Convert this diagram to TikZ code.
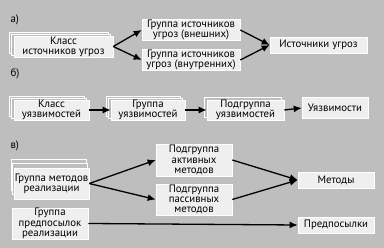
\documentclass[tikz,border=0pt]{standalone}
\usepackage{fontspec}
\setmainfont{PT Sans}
\usetikzlibrary{arrows.meta,shadows}
\definecolor{bgc}{RGB}{190,190,190}
\definecolor{boxc}{RGB}{239,239,239}
\begin{document}
\begin{tikzpicture}[x=1pt,y=-1pt,
    box/.style={draw=white,fill=boxc,line width=0.6pt,inner sep=0pt,align=center,
      font=\fontsize{10.8}{10.2}\selectfont},
    sheets/.style={double copy shadow={shadow xshift=-2.5pt,shadow yshift=2pt,
      draw=white,fill=bgc,line width=0.6pt}},
    sheet/.style={copy shadow={shadow xshift=-2.5pt,shadow yshift=2.5pt,
      draw=white,fill=bgc,line width=0.6pt}},
    arr/.style={line width=1.3pt,-{Latex[length=8pt,width=7pt]}},
    lbl/.style={anchor=west,font=\fontsize{10.8}{10.2}\selectfont}]
  \fill[bgc] (0,0) rectangle (384,248);
  \useasboundingbox (0,0) rectangle (384,248);
  % a) sources of threats
  \node[lbl] (la) at (7,20) {а)};
  \node[box,sheets,minimum width=99pt,minimum height=21pt] (ka) at (63.5,46.5) {Класс\\источников угроз};
  \node[box,minimum width=98pt,minimum height=21pt] (ga1) at (191,30) {Группа источников\\угроз (внешних)};
  \node[box,minimum width=98pt,minimum height=21pt] (ga2) at (191,60) {Группа источников\\угроз (внутренних)};
  \node[box,minimum width=97pt,minimum height=16pt] (ia) at (318.5,45) {Источники угроз};
  \draw[arr] (ka.east) -- (ga1.west);
  \draw[arr] (ka.east) -- (ga2.west);
  \draw[arr] (ga1.east) -- (ia.west);
  \draw[arr] (ga2.east) -- (ia.west);
  % b) vulnerabilities
  \node[lbl] (lb) at (7,74) {б)};
  \node[box,sheets,minimum width=75pt,minimum height=20pt] (kb) at (51.5,110) {Класс\\уязвимостей};
  \node[box,sheets,minimum width=74pt,minimum height=20pt] (gb) at (148,110) {Группа\\уязвимостей};
  \node[box,sheet,minimum width=77pt,minimum height=20pt] (pb) at (245.5,110) {Подгруппа\\уязвимостей};
  \node[box,minimum width=66pt,minimum height=21pt] (ub) at (335,108) {Уязвимости};
  \draw[arr] (kb) -- (gb);
  \draw[arr] (gb) -- (pb);
  \draw[arr] (pb.east) -- (ub.west);
  % c) methods and preconditions
  \node[lbl] (lc) at (7,146) {в)};
  \node[box,minimum width=75pt,minimum height=31pt,
    double copy shadow={shadow xshift=-1.5pt,shadow yshift=4.5pt,draw=white,fill=bgc,line width=0.6pt}]
    (gc) at (51.5,183.5) {Группа методов\\реализации};
  \node[box,minimum width=76pt,minimum height=31pt] (gpc) at (50,223.5) {Группа\\предпосылок\\реализации};
  \node[box,minimum width=76pt,minimum height=32pt] (pac) at (194,160) {Подгруппа\\активных\\методов};
  \node[box,minimum width=76pt,minimum height=31pt] (ppc) at (194,199.5) {Подгруппа\\пассивных\\методов};
  \node[box,minimum width=76pt,minimum height=16pt] (mc) at (336,180) {Методы};
  \node[box,minimum width=76pt,minimum height=16pt] (prc) at (336,225) {Предпосылки};
  \draw[arr] (gc.east) -- (pac.west);
  \draw[arr] (gc.east) -- (ppc.west);
  \draw[arr] (pac.east) -- (mc.west);
  \draw[arr] (ppc.east) -- (mc.west);
  \draw[arr] (gpc.east) -- (prc.west);
\end{tikzpicture}
\end{document}
